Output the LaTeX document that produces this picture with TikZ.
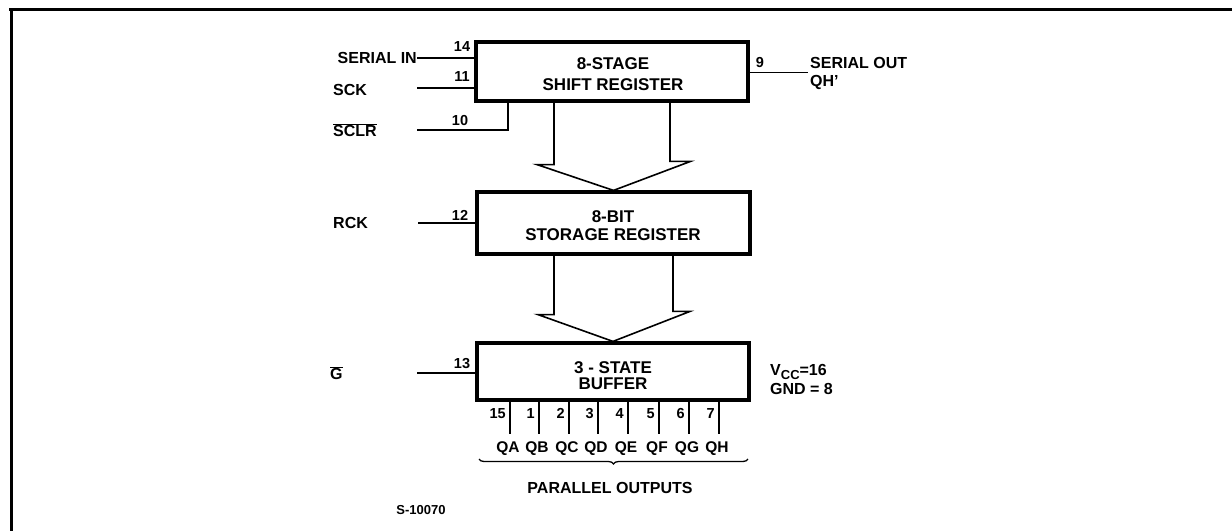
\documentclass[tikz,border=0pt]{standalone}
\usepackage{fontspec}
\setmainfont{Liberation Sans}
\usetikzlibrary{decorations.pathreplacing,calc}
\begin{document}
\begin{tikzpicture}[x=1pt,y=-1pt,
  box/.style={draw, line width=3.2pt, inner sep=0pt},
  boxtxt/.style={font=\fontsize{17}{20}\selectfont\bfseries, align=center, inner sep=0pt},
  wire/.style={line width=1.6pt},
  lbl/.style={font=\fontsize{16}{19}\selectfont\bfseries, inner sep=0pt},
  qlbl/.style={font=\fontsize{15.5}{18}\selectfont\bfseries, inner sep=0pt},
  pinno/.style={font=\fontsize{14.5}{17}\selectfont\bfseries, inner sep=0pt},
  note/.style={font=\fontsize{13}{15}\selectfont\bfseries, inner sep=0pt}]
\useasboundingbox (0,0) rectangle (1232,531);
% frame
\coordinate (fTL) at (11,9);
\coordinate (fTR) at (1232,9);
\coordinate (fBL) at (11,531);
\draw[line width=3pt] ([xshift=-2pt]fTL) -- (fTR);
\draw[line width=3pt] (fTL) -- (fBL);
% boxes
\node[box, minimum width=272pt, minimum height=59pt] (b1) at (612,71.5) {};
\node[box, minimum width=273pt, minimum height=62pt] (b2) at (613.5,223) {};
\node[box, minimum width=272pt, minimum height=57pt] (b3) at (613,371.5) {};
\node[boxtxt] (t1) at (613,74.5) {8-STAGE\\[1pt]SHIFT REGISTER};
\node[boxtxt] (t2) at (613,226) {8-BIT\\[-2pt]STORAGE REGISTER};
\node[boxtxt] (t3) at (613,376) {3 - STATE\\[-4pt]BUFFER};
% serial in
\node[lbl, anchor=east] (sil) at (417,58) {SERIAL IN};
\draw[wire] (sil.east) -- (sil.east -| b1.west);
\node[pinno] (p14) at (462,47) {14};
% SCK
\node[lbl, anchor=west] (sck) at (333,90) {SCK};
\coordinate (sckE) at (417,88);
\draw[wire] (sckE) -- (sckE -| b1.west);
\node[pinno] (p11) at (462,77) {11};
% SCLR
\node[lbl, anchor=west] (sclr) at (333,130) {$\overline{\mbox{SCLR}}$};
\coordinate (sclrE) at (417,130);
\draw[wire] (sclrE) -| ([xshift=-104pt]b1.south);
\node[pinno] (p10) at (460,121) {10};
% serial out
\coordinate (soE) at (808,72.5);
\draw[wire] (soE -| b1.east) -- (soE);
\node[pinno] (p9) at (760,63) {9};
\node[lbl, anchor=west] (sol1) at (810,63) {SERIAL OUT};
\node[lbl, anchor=west] (sol2) at (810,82) {QH'};
% RCK
\node[lbl, anchor=west] (rck) at (333,223) {RCK};
\coordinate (rckE) at (418,223);
\draw[wire] (rckE) -- (rckE -| b2.west);
\node[pinno] (p12) at (460,215) {12};
% G
\node[lbl, anchor=west] (gl) at (330,373) {$\overline{\mbox{G}}$};
\coordinate (gE) at (417,373);
\draw[wire] (gE) -- (gE -| b3.west);
\node[pinno] (p13) at (462,364) {13};
% supply
\node[lbl, anchor=west] (vcc) at (770,372) {V\raisebox{-3.5pt}{\fontsize{13}{13}\selectfont CC}=16};
\node[lbl, anchor=west] (gnd) at (770,389) {GND = 8};
% wide arrows
\draw[wire, line join=miter] ([xshift=-58pt]b1.south) -- ++(0,62) -- ++(-17,0) -- (b2.north)
  -- ++(77,-29) -- ++(-20.5,0) -- ([xshift=58pt]b1.south);
\draw[wire, line join=miter] ([xshift=-59.5pt]b2.south) -- ++(0,59) -- ++(-16,0) -- (b3.north)
  -- ++(77,-30) -- ++(-17,0) -- ([xshift=59.5pt]b2.south);
% parallel outputs
\foreach \x/\n/\q in {510/15/QA, 539/1/QB, 569/2/QC, 598/3/QD, 628/4/QE, 659/5/QF, 689/6/QG, 719/7/QH} {
  \draw[wire] (b3.south -| \x,0) -- (\x,434);
  \node[pinno, anchor=base east] at (\x-4,418) {\n};
  \node[qlbl, anchor=base] at (\x-2,452.5) {\q};
}
\coordinate (brL) at (479,459);
\coordinate (brR) at (748,459);
\draw[line width=1.3pt, decorate, decoration={brace, mirror, amplitude=5pt}] (brL) -- (brR);
\node[lbl] (po) at (610,488) {PARALLEL OUTPUTS};
\node[note] (sn) at (421,510) {S-10070};
\end{tikzpicture}
\end{document}
